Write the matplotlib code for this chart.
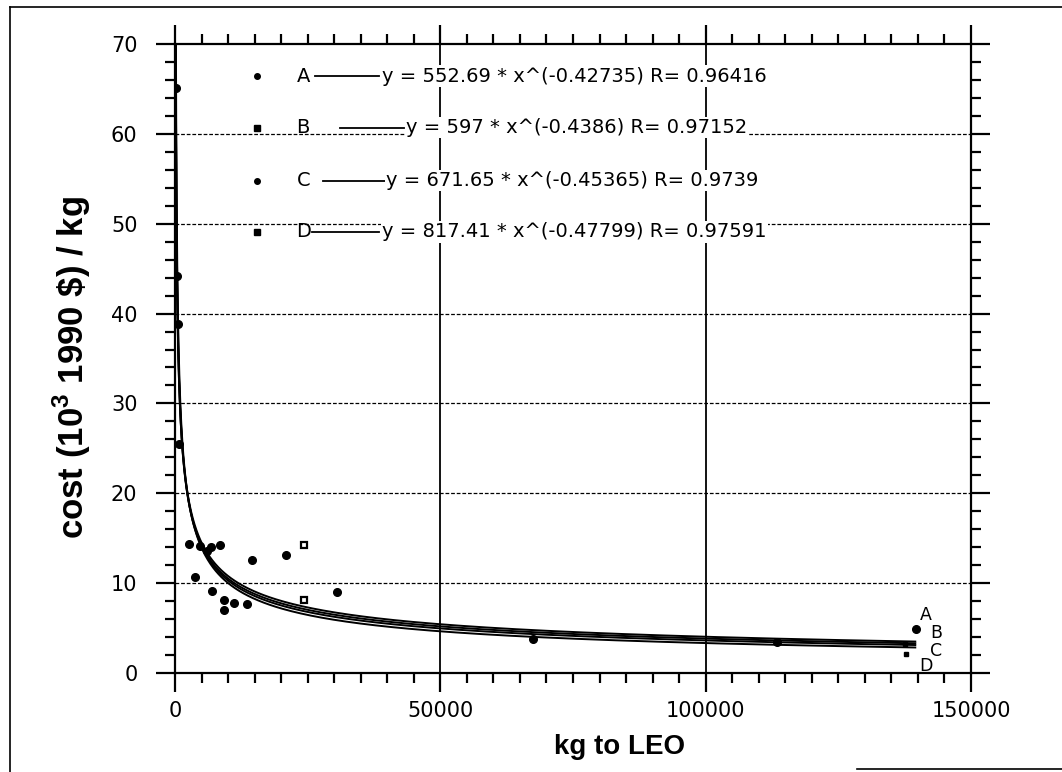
import matplotlib.pyplot as plt
import numpy as np
from matplotlib.lines import Line2D

plt.rcParams['font.family'] = ['DejaVu Sans']
plt.rcParams['mathtext.fontset'] = 'custom'
plt.rcParams['mathtext.rm'] = 'Liberation Sans'
plt.rcParams['mathtext.bf'] = 'Liberation Sans:bold'

# launch cost points (kg to LEO, 10^3 1990 $ per kg)
dot_x = [100, 350, 500, 700, 2700, 3800, 4700, 6100, 6800, 7000, 8500, 9200, 9200,
         11150, 13500, 14500, 20900, 30500, 67500, 113500, 139700]
dot_y = [65.1, 44.2, 38.8, 25.5, 14.4, 10.7, 14.1, 13.6, 14.0, 9.1, 14.2, 8.1, 7.0,
         7.8, 7.7, 12.6, 13.1, 9.0, 3.8, 3.5, 4.9]
open_x = [24300, 24300]
open_y = [14.2, 8.1]
sq_x = [137650, 137800]
sq_y = [3.2, 2.1]

# power-law fits y = a * x^b
fit_names = ['A', 'B', 'C', 'D']
fit_a = [552.69, 597, 671.65, 817.41]
fit_b = [-0.42735, -0.4386, -0.45365, -0.47799]
fit_r = ['0.96416', '0.97152', '0.9739', '0.97591']
fit_a_txt = ['552.69', '597', '671.65', '817.41']
fit_b_txt = ['-0.42735', '-0.4386', '-0.45365', '-0.47799']

fig = plt.figure(figsize=(10.62, 7.72), dpi=100)
ax = fig.add_axes([175 / 1062, 99 / 772, 796 / 1062, 629 / 772])

xx = np.geomspace(60, 139500, 600)
for a, b in zip(fit_a, fit_b):
    ax.plot(xx, a * xx ** b, color='black', lw=1.4, zorder=3)

ax.plot(dot_x, dot_y, 'o', color='black', ms=5.5, zorder=4)
ax.plot(open_x, open_y, 's', mfc='white', mec='black', mew=1.6, ms=5, zorder=4)
ax.plot(sq_x, sq_y, 's', color='black', ms=3.5, zorder=4)

# in-plot legend rows
row_y = [66.4, 60.7, 54.8, 49.1]
row_mark = ['o', 's', 'o', 's']
line_x0 = [26300, 31000, 27800, 25900]
line_x1 = [38500, 43200, 39500, 38500]
txt_x = [39100, 43600, 39800, 39100]
for i in range(4):
    ax.plot([15400], [row_y[i]], row_mark[i], color='black', ms=4, zorder=5)
    ax.text(22900, row_y[i], fit_names[i], fontsize=14, ha='left', va='center', zorder=5)
    ax.plot([line_x0[i], line_x1[i]], [row_y[i], row_y[i]], color='black', lw=1.3, zorder=5)
    ax.text(txt_x[i], row_y[i],
            'y = %s * x^(%s) R= %s' % (fit_a_txt[i], fit_b_txt[i], fit_r[i]),
            fontsize=14, ha='left', va='center', zorder=5,
            bbox=dict(facecolor='white', edgecolor='none', pad=1))

# curve labels at the right end
end_x = [141500, 143400, 143400, 141500]
end_y = [6.5, 4.5, 2.5, 0.8]
for n, ex, ey in zip(fit_names, end_x, end_y):
    ax.text(ex, ey, n, fontsize=12.5, ha='center', va='center')

ax.set_xlim(0, 150000)
ax.set_ylim(0, 70)

for yv in [10, 20, 30, 40, 50, 60]:
    ax.axhline(yv, color='black', lw=0.9, ls=(0, (3, 1.5)), zorder=1)
for xv in [50000, 100000]:
    ax.axvline(xv, color='black', lw=1.3, zorder=1)

ax.set_xticks([0, 50000, 100000, 150000])
ax.set_xticklabels(['0', '50000', '100000', '150000'])
ax.set_xticks(np.arange(0, 150001, 5000), minor=True)
ax.set_yticks(np.arange(0, 71, 10))
ax.set_yticks(np.arange(0, 71, 2), minor=True)

ax.tick_params(which='both', direction='out', top=True, right=True, width=1.6, colors='black')
ax.tick_params(which='major', length=14)
ax.tick_params(which='minor', length=7.5)
ax.tick_params(axis='y', which='major', labelsize=15, pad=13)
ax.tick_params(axis='x', which='major', labelsize=15, pad=6)
for s in ax.spines.values():
    s.set_linewidth(1.6)

fig.text(619 / 1062, 1 - 747 / 772, 'kg to LEO', fontsize=20, fontweight='bold',
         family='Liberation Sans', ha='center', va='center')
fig.text(72 / 1062, 1 - 368 / 772, r'cost (10$^\mathbf{3}$ 1990 \$) / kg', fontsize=25,
         fontweight='bold', family='Liberation Sans', ha='center', va='center', rotation=90)

# scanned page frame
fig.add_artist(Line2D([10 / 1062, 10 / 1062], [0, 1 - 7 / 772], color='black', lw=1.2))
fig.add_artist(Line2D([10 / 1062, 1], [1 - 7 / 772, 1 - 7 / 772], color='black', lw=1.2))
fig.add_artist(Line2D([857 / 1062, 1], [3 / 772, 3 / 772], color='black', lw=1.2))

fig.savefig('out.png', dpi=100)
